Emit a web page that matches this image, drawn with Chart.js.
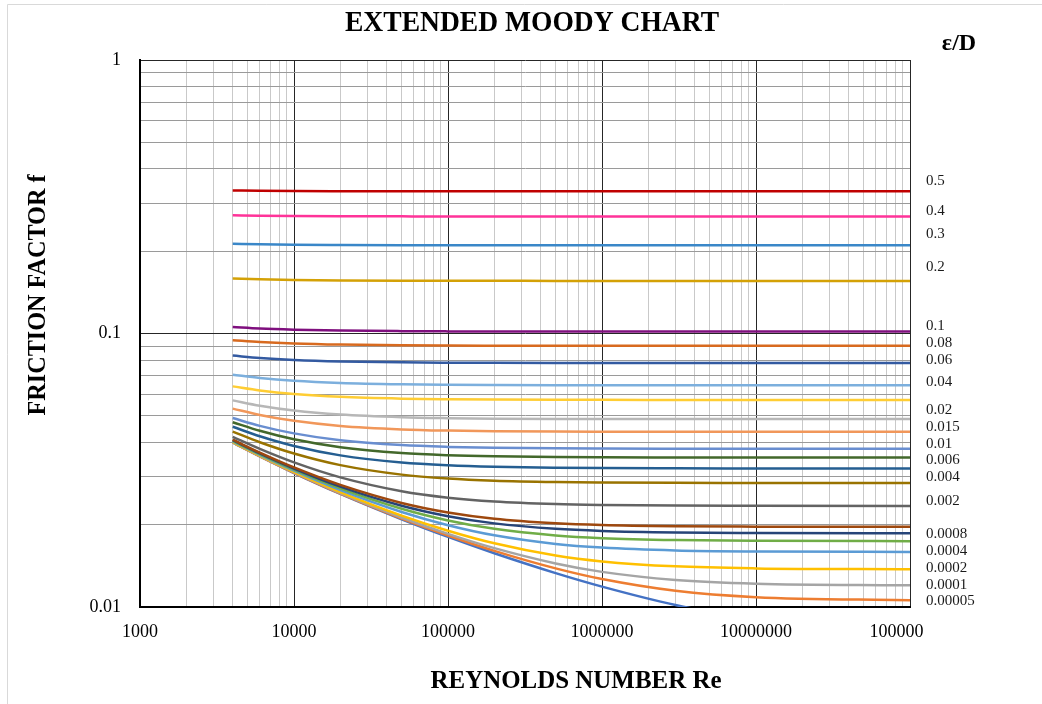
<!DOCTYPE html>
<html>
<head>
<meta charset="utf-8">
<script src="https://cdn.jsdelivr.net/npm/chart.js@4.4.1/dist/chart.umd.min.js"></script>
<style>
  html, body { margin: 0; padding: 0; background: #fff; }
  canvas { display: block; }
</style>
</head>
<body>
<canvas id="moody" width="1042" height="704"></canvas>
<script>
// Reynolds numbers the curves were read at
const re = [4000, 6000, 1e4, 2e4, 5e4, 1e5, 2e5, 5e5, 1e6, 3e6, 1e7, 1e8];

// friction factor f, one array per relative roughness e/D
const f_0_5     = [0.3336, 0.3327, 0.3319, 0.3314, 0.3311, 0.3310, 0.3309, 0.3309, 0.3309, 0.3309, 0.3309, 0.3309];
const f_0_4     = [0.2705, 0.2696, 0.2689, 0.2684, 0.2681, 0.2679, 0.2679, 0.2679, 0.2678, 0.2678, 0.2678, 0.2678];
const f_0_3     = [0.2128, 0.2119, 0.2111, 0.2106, 0.2102, 0.2101, 0.2101, 0.2100, 0.2100, 0.2100, 0.2100, 0.2100];
const f_0_2     = [0.1588, 0.1578, 0.1570, 0.1563, 0.1559, 0.1558, 0.1558, 0.1557, 0.1557, 0.1557, 0.1557, 0.1557];
const f_0_1     = [0.1057, 0.1043, 0.1033, 0.1025, 0.1020, 0.1018, 0.1017, 0.1017, 0.1017, 0.1017, 0.1017, 0.1017];
const f_0_08    = [0.09456, 0.09313, 0.09196, 0.09107, 0.09053, 0.09035, 0.09026, 0.09021, 0.09019, 0.09017, 0.09017, 0.09017];
const f_0_06    = [0.08302, 0.08140, 0.08008, 0.07906, 0.07844, 0.07823, 0.07813, 0.07806, 0.07804, 0.07803, 0.07802, 0.07802];
const f_0_04    = [0.07070, 0.06879, 0.06719, 0.06595, 0.06519, 0.06493, 0.06480, 0.06472, 0.06470, 0.06468, 0.06467, 0.06467];
const f_0_03    = [0.06408, 0.06193, 0.06011, 0.05867, 0.05778, 0.05748, 0.05733, 0.05724, 0.05721, 0.05718, 0.05718, 0.05717];
const f_0_02    = [0.05696, 0.05445, 0.05228, 0.05052, 0.04941, 0.04903, 0.04883, 0.04872, 0.04868, 0.04865, 0.04864, 0.04864];
const f_0_015   = [0.05314, 0.05037, 0.04793, 0.04591, 0.04461, 0.04415, 0.04392, 0.04378, 0.04374, 0.04371, 0.04369, 0.04369];
const f_0_01    = [0.04908, 0.04596, 0.04313, 0.04071, 0.03908, 0.03850, 0.03821, 0.03803, 0.03797, 0.03792, 0.03791, 0.03790];
const f_0_008   = [0.04738, 0.04408, 0.04103, 0.03837, 0.03655, 0.03589, 0.03555, 0.03534, 0.03527, 0.03522, 0.03520, 0.03520];
const f_0_006   = [0.04562, 0.04211, 0.03880, 0.03584, 0.03373, 0.03295, 0.03254, 0.03229, 0.03220, 0.03214, 0.03212, 0.03212];
const f_0_004   = [0.04379, 0.04004, 0.03641, 0.03302, 0.03048, 0.02950, 0.02897, 0.02864, 0.02853, 0.02845, 0.02843, 0.02842];
const f_0_002   = [0.04189, 0.03785, 0.03379, 0.02979, 0.02651, 0.02511, 0.02431, 0.02379, 0.02361, 0.02348, 0.02344, 0.02342];
const f_0_001   = [0.04091, 0.03670, 0.03238, 0.02795, 0.02402, 0.02217, 0.02103, 0.02024, 0.01994, 0.01974, 0.01967, 0.01964];
const f_0_0008  = [0.04072, 0.03646, 0.03209, 0.02755, 0.02346, 0.02148, 0.02022, 0.01931, 0.01897, 0.01873, 0.01865, 0.01861];
const f_0_0006  = [0.04051, 0.03623, 0.03179, 0.02715, 0.02287, 0.02073, 0.01931, 0.01826, 0.01785, 0.01756, 0.01745, 0.01741];
const f_0_0004  = [0.04031, 0.03599, 0.03150, 0.02674, 0.02225, 0.01991, 0.01829, 0.01701, 0.01649, 0.01610, 0.01596, 0.01590];
const f_0_0002  = [0.04011, 0.03575, 0.03119, 0.02632, 0.02159, 0.01901, 0.01710, 0.01543, 0.01468, 0.01408, 0.01384, 0.01374];
const f_0_0001  = [0.04001, 0.03562, 0.03104, 0.02610, 0.02125, 0.01851, 0.01641, 0.01443, 0.01344, 0.01256, 0.01217, 0.01200];
const f_0_00005 = [0.03996, 0.03557, 0.03096, 0.02599, 0.02107, 0.01826, 0.01604, 0.01384, 0.01265, 0.01146, 0.01086, 0.01058];
const f_0_00001 = [0.03992, 0.03551, 0.03090, 0.02591, 0.02093, 0.01804, 0.01572, 0.01330, 0.01187, 0.01017, 0.00900, 0.00819];

// tick labels shown on the axes (the last x label is cut off in the original)
const xTickLabels = ['1000', '10000', '100000', '1000000', '10000000', '100000'];
const yTickLabels = ['0.01', '0.1', '1'];

// curve names written at the right of the plot
const roughLabels = ['0.5', '0.4', '0.3', '0.2', '0.1', '0.08', '0.06', '0.04', '0.02', '0.015',
  '0.01', '0.006', '0.004', '0.002', '0.0008', '0.0004', '0.0002', '0.0001', '0.00005'];

// ---- styling / layout ----
const serif = "'Liberation Serif', 'Times New Roman', serif";
const roughLabelY = [181, 210.7, 234, 267.3, 325.7, 343.5, 360, 382.3, 410, 427.3,
  444.3, 460, 477, 501.3, 534, 551.3, 568.3, 585, 600.7];

const series = [
  ['0.5', f_0_5, '#C00000'],
  ['0.4', f_0_4, '#FF3399'],
  ['0.3', f_0_3, '#3A87C8'],
  ['0.2', f_0_2, '#D4A106'],
  ['0.1', f_0_1, '#7F0F7E'],
  ['0.08', f_0_08, '#D86A1F'],
  ['0.06', f_0_06, '#335AA1'],
  ['0.04', f_0_04, '#7CAFDD'],
  ['0.03', f_0_03, '#FFCD33'],
  ['0.02', f_0_02, '#B7B7B7'],
  ['0.015', f_0_015, '#F1975A'],
  ['0.01', f_0_01, '#698ED0'],
  ['0.008', f_0_008, '#43682B'],
  ['0.006', f_0_006, '#255E91'],
  ['0.004', f_0_004, '#997300'],
  ['0.002', f_0_002, '#636363'],
  ['0.001', f_0_001, '#9E480E'],
  ['0.0008', f_0_0008, '#264478'],
  ['0.0006', f_0_0006, '#70AD47'],
  ['0.0004', f_0_0004, '#5B9BD5'],
  ['0.0002', f_0_0002, '#FFC000'],
  ['0.0001', f_0_0001, '#A5A5A5'],
  ['0.00005', f_0_00005, '#ED7D31'],
  ['0.00001', f_0_00001, '#4472C4']
];

function isDecade(v) {
  const l = Math.log10(v);
  return Math.abs(l - Math.round(l)) < 1e-9;
}

// 1..9 per decade, like log graph paper
function logTicks(loExp, hiExp) {
  const out = [];
  for (let e = loExp; e < hiExp; e++) {
    for (let m = 1; m <= 9; m++) {
      out.push(e < 0 ? m / Math.pow(10, -e) : m * Math.pow(10, e));
    }
  }
  out.push(Math.pow(10, hiExp));
  return out;
}

const decor = {
  id: 'decor',
  beforeDraw(chart) {
    const ctx = chart.ctx;
    ctx.save();
    ctx.fillStyle = '#fff';
    ctx.fillRect(0, 0, chart.width, chart.height);
    // spreadsheet chart frame, only its left and top edges are in view
    ctx.strokeStyle = '#d9d9d9';
    ctx.lineWidth = 1;
    ctx.beginPath();
    ctx.moveTo(7.5, chart.height);
    ctx.lineTo(7.5, 4.5);
    ctx.lineTo(chart.width, 4.5);
    ctx.stroke();
    ctx.restore();
  },
  afterDraw(chart) {
    const ctx = chart.ctx;
    ctx.save();
    ctx.fillStyle = '#000';
    ctx.textBaseline = 'middle';
    ctx.textAlign = 'center';

    ctx.font = 'bold 29px ' + serif;
    ctx.fillText('EXTENDED MOODY CHART', 532, 23.5, 374);

    ctx.font = 'bold 24px ' + serif;
    ctx.fillText('ε/D', 959, 44);

    ctx.font = 'bold 26px ' + serif;
    ctx.fillText('REYNOLDS NUMBER Re', 576, 681, 291);

    ctx.save();
    ctx.translate(39, 295);
    ctx.rotate(-Math.PI / 2);
    ctx.font = 'bold 25px ' + serif;
    ctx.fillText('FRICTION FACTOR f', 0, 0, 241);
    ctx.restore();

    ctx.textAlign = 'left';
    ctx.fillStyle = '#1a1a1a';
    ctx.font = '15px ' + serif;
    roughLabels.forEach((t, i) => ctx.fillText(t, 926, roughLabelY[i]));
    ctx.restore();
  }
};

const ctx = document.getElementById('moody');
new Chart(ctx, {
  type: 'line',
  data: {
    datasets: series.map(([name, f, color]) => ({
      label: name,
      data: re.map((x, i) => ({ x: x, y: f[i] })),
      borderColor: color,
      backgroundColor: color,
      borderWidth: 2.5,
      pointRadius: 0,
      fill: false,
      cubicInterpolationMode: 'monotone',
      clip: 0
    }))
  },
  options: {
    responsive: false,
    animation: false,
    devicePixelRatio: 1,
    layout: { padding: { left: 0, right: 132, top: 60, bottom: 0 } },
    plugins: {
      legend: { display: false },
      tooltip: { enabled: false },
      title: { display: false }
    },
    scales: {
      x: {
        type: 'logarithmic',
        min: 1000,
        max: 1e8,
        afterBuildTicks: (s) => { s.ticks = logTicks(3, 8).map(v => ({ value: v, major: isDecade(v) })); },
        afterFit: (s) => { s.height = 97; },
        ticks: {
          autoSkip: false,
          maxRotation: 0,
          padding: 14,
          color: '#000',
          font: { family: serif, size: 18 },
          callback: (v) => {
            if (!isDecade(v)) return '';
            const i = Math.round(Math.log10(v)) - 3;
            // the clipped last label sits left of its tick, as in the original
            return i === xTickLabels.length - 1 ? xTickLabels[i] + '\u2002\u2002\u2002' : xTickLabels[i];
          }
        },
        grid: {
          drawTicks: false,
          lineWidth: 1,
          color: (c) => c.tick && isDecade(c.tick.value) ? '#262626' : '#c9c9c9'
        },
        border: { display: true, color: '#000', width: 2 }
      },
      y: {
        type: 'logarithmic',
        min: 0.01,
        max: 1,
        afterBuildTicks: (s) => { s.ticks = logTicks(-2, 0).map(v => ({ value: v, major: isDecade(v) })); },
        afterFit: (s) => { s.width = 140; },
        ticks: {
          autoSkip: false,
          padding: 19,
          color: '#000',
          font: { family: serif, size: 18 },
          callback: (v) => isDecade(v) ? yTickLabels[Math.round(Math.log10(v)) + 2] : ''
        },
        grid: {
          drawTicks: false,
          lineWidth: 1,
          color: (c) => c.tick && isDecade(c.tick.value) ? '#262626' : '#9a9a9a'
        },
        border: { display: true, color: '#000', width: 2 }
      }
    }
  },
  plugins: [decor]
});
</script>
</body>
</html>
